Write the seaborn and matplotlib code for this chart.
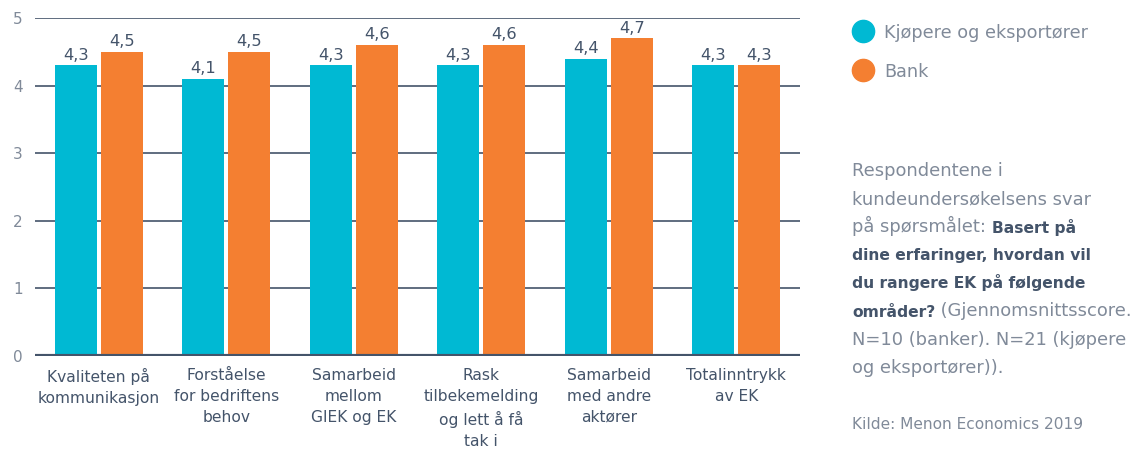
import pandas as pd
import seaborn as sns
import matplotlib.pyplot as plt
from matplotlib.lines import Line2D

categories = ["Kvaliteten på\nkommunikasjon", "Forståelse\nfor bedriftens\nbehov",
              "Samarbeid\nmellom\nGIEK og EK", "Rask\ntilbekemelding\nog lett å få\ntak i",
              "Samarbeid\nmed andre\naktører", "Totalinntrykk\nav EK"]
buyers = [4.3, 4.1, 4.3, 4.3, 4.4, 4.3]
banks = [4.5, 4.5, 4.6, 4.6, 4.7, 4.3]
series_names = ["Kjøpere og eksportører", "Bank"]

teal = "#00b9d3"
orange = "#f47f31"
dark = "#44546a"
grey = "#808a99"

df = pd.DataFrame({
    "kategori": categories * 2,
    "verdi": buyers + banks,
    "gruppe": [series_names[0]] * len(buyers) + [series_names[1]] * len(banks),
})

sns.set_style("white")
plt.rcParams["font.family"] = ["DejaVu Sans"]

W, H = 1138, 450
fig = plt.figure(figsize=(W / 100, H / 100), dpi=100)
ax = fig.add_axes([35 / W, 1 - 356 / H, 765 / W, 338 / H])

sns.barplot(data=df, x="kategori", y="verdi", hue="gruppe", palette=[teal, orange],
            width=0.72, gap=0.08, saturation=1, linewidth=0, legend=False, ax=ax, zorder=3)

for cont in ax.containers:
    ax.bar_label(cont, labels=[f"{v:.1f}".replace(".", ",") for v in cont.datavalues],
                 padding=2, fontsize=11.7, color=dark)

ax.set_ylim(0, 5)
ax.set_xlim(-0.5, 5.5)
ax.set_yticks([0, 1, 2, 3, 4, 5])
ax.yaxis.grid(True, color=dark, linewidth=1.2, zorder=0)
ax.set_axisbelow(True)
ax.axhline(0, color=dark, linewidth=3, zorder=4)
for s in ax.spines.values():
    s.set_visible(False)
ax.tick_params(axis="y", length=0, pad=9, labelsize=11, labelcolor=grey)
ax.tick_params(axis="x", length=0, pad=8.5, labelsize=11.2, labelcolor=dark)
for lab in ax.get_xticklabels():
    lab.set_linespacing(1.5)
ax.set_xlabel("")
ax.set_ylabel("")

# legend drawn by hand
for i, (name, col) in enumerate(zip(series_names, [teal, orange])):
    yc = 1 - (30.5 + 39.5 * i) / H
    fig.add_artist(Line2D([862.5 / W], [yc], marker="o", markersize=16, color=col,
                          linestyle="", transform=fig.transFigure))
    fig.text(884 / W, yc, name, fontsize=12.7, color=grey, va="center_baseline")

# note text on the right, mixed weights
lines = [
    [("Respondentene i", False)],
    [("kundeundersøkelsens svar", False)],
    [("på spørsmålet: ", False), ("Basert på", True)],
    [("dine erfaringer, hvordan vil", True)],
    [("du rangere EK på følgende", True)],
    [("områder?", True), (" (Gjennomsnittsscore.", False)],
    [("N=10 (banker). N=21 (kjøpere", False)],
    [("og eksportører)).", False)],
]


def style(bold):
    if bold:
        return dict(fontsize=11.2, color=dark, fontweight="bold")
    return dict(fontsize=12.9, color=grey, fontweight="normal")


x0 = 852 / W
y = 1 - 176 / H
step = 28.1 / H
for parts in lines:
    last = None
    for txt, bold in parts:
        if last is None:
            last = fig.text(x0, y, txt, va="baseline", ha="left", **style(bold))
        else:
            last = ax.annotate(txt, xy=(1, 0), xycoords=last, va="bottom", ha="left",
                               annotation_clip=False, **style(bold))
    y -= step

fig.text(x0, 1 - 429 / H, "Kilde: Menon Economics 2019", fontsize=11.1, color=grey,
         va="baseline")

plt.savefig("out.png", dpi=100)
